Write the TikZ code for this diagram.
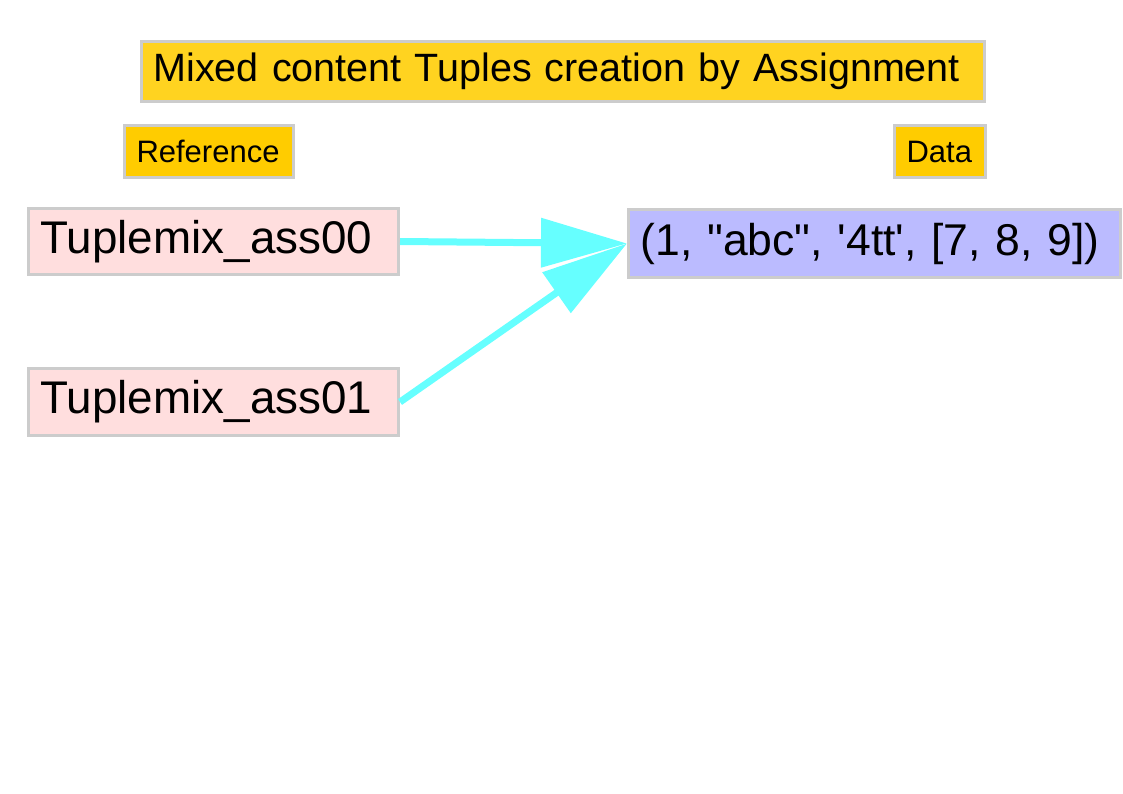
\documentclass[tikz,border=0pt]{standalone}
\usepackage{fontspec}
\setmainfont{Liberation Sans}
\usetikzlibrary{positioning, arrows.meta}

\definecolor{titlegold}{HTML}{FFD320}
\definecolor{labelgold}{HTML}{FFCC00}
\definecolor{refpink}{HTML}{FFDEDE}
\definecolor{datablue}{HTML}{BBBBFF}
\definecolor{edgegray}{HTML}{CCCCCC}
\definecolor{linkcyan}{HTML}{66FFFF}

\begin{document}
\begin{tikzpicture}[x=1pt, y=-1pt,
  box/.style={draw=edgegray, line width=3pt, anchor=north west, inner xsep=12pt, inner ysep=0pt, align=left},
  link/.style={draw=linkcyan, line width=7pt, -{Triangle[length=86pt, width=48pt]}}]
\useasboundingbox (0,0) rectangle (1123,794);
\node[box, fill=titlegold, text width=819pt, minimum height=60pt, font=\fontsize{39.5}{44}\selectfont] (title) at (140,40) {\mbox{Mixed content Tuples creation by Assignment}};
\node[box, fill=labelgold, text width=145pt, minimum height=52pt, font=\fontsize{31}{34}\selectfont] (reflabel) at (123,124) {\mbox{Reference}};
\node[box, fill=labelgold, text width=67pt, minimum height=52pt, font=\fontsize{31}{34}\selectfont] (datalabel) at (893,124) {\mbox{Data}};
\node[box, fill=refpink, text width=346pt, minimum height=66pt, font=\fontsize{45.8}{50}\selectfont] (ass00) at (27,207) {\mbox{Tuplemix\_ass00}};
\node[box, fill=refpink, text width=346pt, minimum height=67pt, font=\fontsize{45.8}{50}\selectfont] (ass01) at (27,367) {\mbox{Tuplemix\_ass01}};
\node[box, fill=datablue, text width=468pt, minimum height=68pt, font=\fontsize{44.5}{50}\selectfont] (tupledata) at (627,208) {\mbox{(1, \textquotedbl abc\textquotedbl, \textquotesingle 4tt\textquotesingle, [7, 8, 9])}};
\draw[link] (ass00.east) -- (tupledata.west);
\draw[link] (ass01.east) -- (tupledata.west);
\end{tikzpicture}
\end{document}
